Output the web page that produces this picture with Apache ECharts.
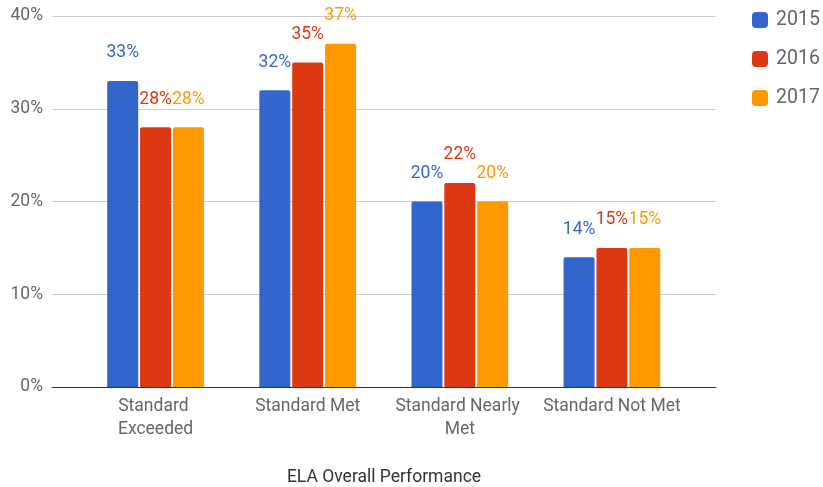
<!DOCTYPE html>
<html>
<head>
<meta charset="utf-8">
<script src="https://cdn.jsdelivr.net/npm/echarts@6/dist/echarts.min.js"></script>
<style>
  html, body { margin: 0; padding: 0; background: #fff; }
  #chart { width: 823px; height: 487px; }
</style>
</head>
<body>
<div id="chart"></div>
<script>
// ELA overall performance by achievement level, 2015-2017 (percent of students)
const categories = ['Standard Exceeded', 'Standard Met', 'Standard Nearly Met', 'Standard Not Met'];
const years = ['2015', '2016', '2017'];
const values2015 = [33, 32, 20, 14];
const values2016 = [28, 35, 22, 15];
const values2017 = [28, 37, 20, 15];
const yTicks = [0, 10, 20, 30, 40];
const colors = ['#3366cc', '#dc3912', '#ff9900'];

const FONT = 'Roboto, "Noto Sans", sans-serif';
const FS = 17.5;
const chart = echarts.init(document.getElementById('chart'));

function barSeries(name, data, color) {
  return {
    name: name,
    type: 'bar',
    xAxisIndex: 1,
    yAxisIndex: 1,
    data: data,
    barWidth: 31,
    barGap: '6%',
    itemStyle: { color: color, borderRadius: [2, 2, 0, 0] },
    label: {
      show: true,
      position: 'top',
      distance: 19,
      formatter: '{c}%',
      color: color,
      fontFamily: FONT,
      fontSize: FS
    }
  };
}

chart.setOption({
  animation: false,
  color: colors,
  textStyle: { fontFamily: FONT },
  legend: {
    orient: 'vertical',
    left: 747,
    top: 5,
    itemWidth: 16,
    itemHeight: 16,
    itemGap: 19,
    icon: 'roundRect',
    data: years,
    textStyle: { fontSize: 19.5, color: '#666', fontFamily: FONT, padding: [0, 0, 0, 3] }
  },
  title: {
    text: 'ELA Overall Performance',
    left: 379,
    textAlign: 'center',
    top: 464,
    textStyle: { fontSize: FS, fontWeight: 'normal', color: '#333', fontFamily: FONT }
  },
  grid: [
    // full-width frame: gridlines and baseline
    { left: 52, right: 107, top: 16, bottom: 100 },
    // inset band where the category groups sit
    { left: 79.5, right: 135, top: 16, bottom: 100 }
  ],
  xAxis: [
    {
      type: 'category',
      gridIndex: 0,
      data: categories,
      axisLine: { show: true, lineStyle: { color: '#333', width: 1 } },
      axisTick: { show: false },
      axisLabel: { show: false },
      splitLine: { show: false }
    },
    {
      type: 'category',
      gridIndex: 1,
      data: categories,
      axisLine: { show: false },
      axisTick: { show: false },
      axisLabel: {
        color: '#666',
        fontSize: FS,
        fontFamily: FONT,
        margin: 8,
        lineHeight: 23,
        width: 143,
        overflow: 'break',
        interval: 0
      }
    }
  ],
  yAxis: [
    {
      type: 'value',
      gridIndex: 0,
      min: yTicks[0],
      max: yTicks[yTicks.length - 1],
      interval: 10,
      axisLine: { show: false },
      axisTick: { show: false },
      splitLine: { lineStyle: { color: '#cccccc' } },
      axisLabel: { formatter: '{value}%', color: '#666', fontSize: FS, fontFamily: FONT, margin: 9 }
    },
    {
      type: 'value',
      gridIndex: 1,
      min: yTicks[0],
      max: yTicks[yTicks.length - 1],
      interval: 10,
      show: false
    }
  ],
  series: [
    barSeries(years[0], values2015, colors[0]),
    barSeries(years[1], values2016, colors[1]),
    barSeries(years[2], values2017, colors[2])
  ]
});
</script>
</body>
</html>
